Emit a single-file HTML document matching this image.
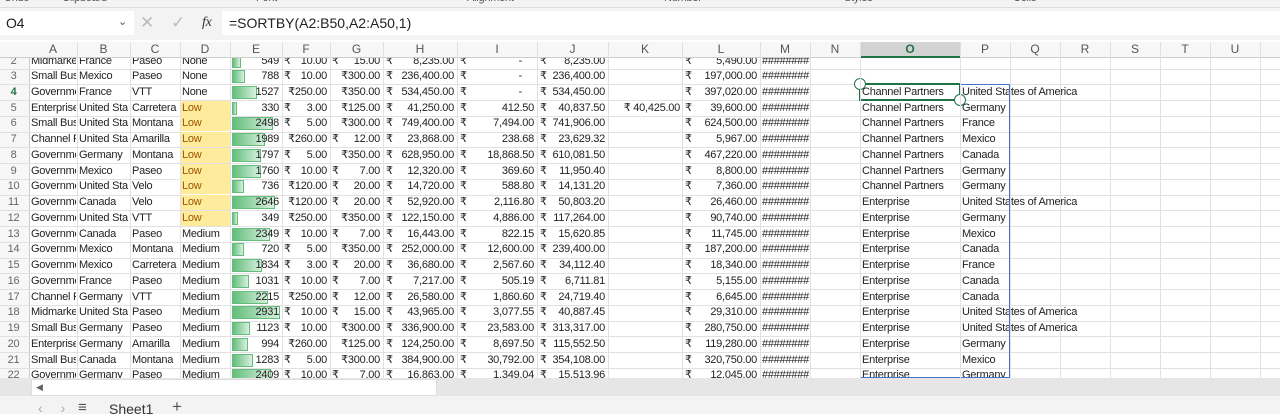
<!DOCTYPE html>
<html><head><meta charset="utf-8">
<style>
body{margin:0;width:1280px;height:414px;overflow:hidden;background:#fff;font-family:"Liberation Sans","DejaVu Sans",sans-serif;position:relative}
.a{position:absolute;white-space:nowrap;overflow:hidden;font-size:11px;color:#222;line-height:15px;letter-spacing:-0.25px}
.g{position:absolute}
.z{z-index:3}
</style></head><body>
<div class="g" style="left:0;top:0;width:1280px;height:7px;background:#f3f3f3;border-bottom:1px solid #ddd"></div>
<div class="a" style="left:0;top:-9px;width:1280px;height:16px;color:#555">
<span style="position:absolute;left:4px">Undo</span><span style="position:absolute;left:62px">Clipboard</span><span style="position:absolute;left:256px">Font</span><span style="position:absolute;left:467px">Alignment</span><span style="position:absolute;left:664px">Number</span><span style="position:absolute;left:844px">Styles</span><span style="position:absolute;left:1013px">Cells</span></div>
<div class="g" style="left:0;top:8px;width:1280px;height:32px;background:#f3f3f3"></div>
<div class="g" style="left:0;top:11px;width:134px;height:24px;background:#fff"></div>
<div class="a" style="left:6px;top:15px;font-size:14px;line-height:16px">O4</div>
<div class="a" style="left:118px;top:15px;font-size:11px;color:#555">⌄</div>
<div class="g" style="left:222px;top:11px;width:1058px;height:24px;background:#fff"></div>
<div class="a" style="left:140px;top:13px;font-size:17px;line-height:20px;color:#bbb">✕</div>
<div class="a" style="left:171px;top:13px;font-size:17px;line-height:20px;color:#bbb">✓</div>
<div class="a" style="left:202px;top:13px;font-size:14px;line-height:20px;font-style:italic;font-family:'Liberation Serif',serif;color:#333">fx</div>
<div class="a" style="left:229px;top:14px;font-size:14px;line-height:18px;letter-spacing:0">=SORTBY(A2:B50,A2:A50,1)</div>
<div id="grid"></div>
<div class="g z" style="left:0;top:378px;width:1280px;height:18px;background:#e6e6e6"></div>
<div class="g z" style="left:31px;top:379px;width:404px;height:15px;background:#fff;border:1px solid #ddd"></div>
<div class="a z" style="left:36px;top:380px;color:#666;font-size:9px">◀</div>
<div class="g z" style="left:0;top:396px;width:1280px;height:18px;background:#f3f3f3"></div>
<div class="a z" style="left:38px;top:401px;color:#aaa;font-size:14px">‹&nbsp;&nbsp;&nbsp;&nbsp;&nbsp;›</div>
<div class="a z" style="left:78px;top:400px;color:#555;font-size:15px">≡</div>
<div class="a z" style="left:109px;top:402px;font-size:14px;color:#333;letter-spacing:0">Sheet1</div>
<div class="a z" style="left:172px;top:399px;font-size:17px;color:#555">+</div>
<script>
const cols=["A","B","C","D","E","F","G","H","I","J","K","L","M","N","O","P","Q","R","S","T","U"];
const edges=[29,77,130,180,230,282,330,383,457,537,608,682,760,810,860,960,1010,1060,1110,1160,1210,1260];
const rows=[
["Midmarke","France","Paseo","None",549,"10.00","15.00","8,235.00","-","8,235.00","","5,490.00","",""],
["Small Busi","Mexico","Paseo","None",788,"10.00","300.00","236,400.00","-","236,400.00","","197,000.00","",""],
["Governme","France","VTT","None",1527,"250.00","350.00","534,450.00","-","534,450.00","","397,020.00","Channel Partners","United States of America"],
["Enterprise","United Sta","Carretera","Low",330,"3.00","125.00","41,250.00","412.50","40,837.50","₹ 40,425.00","39,600.00","Channel Partners","Germany"],
["Small Busi","United Sta","Montana","Low",2498,"5.00","300.00","749,400.00","7,494.00","741,906.00","","624,500.00","Channel Partners","France"],
["Channel P:","United Sta","Amarilla","Low",1989,"260.00","12.00","23,868.00","238.68","23,629.32","","5,967.00","Channel Partners","Mexico"],
["Governme","Germany","Montana","Low",1797,"5.00","350.00","628,950.00","18,868.50","610,081.50","","467,220.00","Channel Partners","Canada"],
["Governme","Mexico","Paseo","Low",1760,"10.00","7.00","12,320.00","369.60","11,950.40","","8,800.00","Channel Partners","Germany"],
["Governme","United Sta","Velo","Low",736,"120.00","20.00","14,720.00","588.80","14,131.20","","7,360.00","Channel Partners","Germany"],
["Governme","Canada","Velo","Low",2646,"120.00","20.00","52,920.00","2,116.80","50,803.20","","26,460.00","Enterprise","United States of America"],
["Governme","United Sta","VTT","Low",349,"250.00","350.00","122,150.00","4,886.00","117,264.00","","90,740.00","Enterprise","Germany"],
["Governme","Canada","Paseo","Medium",2349,"10.00","7.00","16,443.00","822.15","15,620.85","","11,745.00","Enterprise","Mexico"],
["Governme","Mexico","Montana","Medium",720,"5.00","350.00","252,000.00","12,600.00","239,400.00","","187,200.00","Enterprise","Canada"],
["Governme","Mexico","Carretera","Medium",1834,"3.00","20.00","36,680.00","2,567.60","34,112.40","","18,340.00","Enterprise","France"],
["Governme","France","Paseo","Medium",1031,"10.00","7.00","7,217.00","505.19","6,711.81","","5,155.00","Enterprise","Canada"],
["Channel P:","Germany","VTT","Medium",2215,"250.00","12.00","26,580.00","1,860.60","24,719.40","","6,645.00","Enterprise","Canada"],
["Midmarke","United Sta","Paseo","Medium",2931,"10.00","15.00","43,965.00","3,077.55","40,887.45","","29,310.00","Enterprise","United States of America"],
["Small Busi","Germany","Paseo","Medium",1123,"10.00","300.00","336,900.00","23,583.00","313,317.00","","280,750.00","Enterprise","United States of America"],
["Enterprise","Germany","Amarilla","Medium",994,"260.00","125.00","124,250.00","8,697.50","115,552.50","","119,280.00","Enterprise","Germany"],
["Small Busi","Canada","Montana","Medium",1283,"5.00","300.00","384,900.00","30,792.00","354,108.00","","320,750.00","Enterprise","Mexico"],
["Governme","Germany","Paseo","Medium",2409,"10.00","7.00","16,863.00","1,349.04","15,513.96","","12,045.00","Enterprise","Germany"]];
const G=document.getElementById('grid');
const TOP=42,HH=15,R0=49,RH=15.74,BOT=378;
function mk(st,txt,cls){const d=document.createElement('div');d.className=cls||'g';d.style.cssText=st;if(txt!==undefined)d.textContent=txt;G.appendChild(d);return d;}
let d;
d=mk(`left:0;top:${TOP}px;width:1280px;height:${HH}px;background:#f7f7f7;border-bottom:1px solid #ccc;z-index:2`);

d=mk(`left:0;top:${TOP+HH}px;width:29px;height:${BOT-TOP-HH}px;background:#f7f7f7;border-right:1px solid #ccc`);

d=mk(`left:860px;top:${TOP}px;width:100px;height:${HH-1}px;background:#d3d3d3;border-bottom:2px solid #217346;z-index:2`);

cols.forEach((c,i)=>{d=mk(`left:${edges[i]}px;top:${TOP}px;width:${edges[i+1]-edges[i]}px;text-align:center;color:${c=='O'?'#217346':'#555'};font-weight:${c=='O'?'bold':'normal'};font-size:12px;z-index:2;letter-spacing:0`,c,'a');

mk(`left:${edges[i+1]}px;top:${TOP}px;width:1px;height:${BOT-TOP}px;background:#e1e1e1;z-index:2`);});
for(let r=0;r<=rows.length;r++){const y=R0+r*RH+4;if(y>TOP+HH)mk(`left:0;top:${y}px;width:1280px;height:1px;background:#e1e1e1`);}
rows.forEach((row,ri)=>{const n=ri+2;const y=R0+ri*RH+4.5;
 d=mk(`left:0;top:${y}px;width:27px;text-align:center;color:${n==4?'#217346':'#666'};font-weight:${n==4?'bold':'normal'}`,String(n),'a');
 
 if(row[3]=='Low'){d=mk(`left:181px;top:${y}px;width:49px;height:15px;background:#ffeb9c`);}
 const w=row[4]/2931*48;
 d=mk(`left:232px;top:${y+1}px;width:${w}px;height:13px;background:linear-gradient(90deg,#63be7b,#d8f0df);border:1px solid #63be7b;box-sizing:border-box`);
 
 for(let c=0;c<14;c++){let v=row[c];let ci=c<12?c:c+2;if(c==12)ci=14;if(c==13)ci=15;
  const x=edges[ci],W=edges[ci+1]-x;let st=`top:${y}px;`;let txt=v;
  if(c<=3||c>=12){st+=`left:${x+2}px;width:${c==13?300:W-3}px;`;if(c==3&&v=='Low')st+='color:#9c5700;';}
  else if(c==4){st+=`left:${x}px;width:${W-3}px;text-align:right;`;}
  else if(c==10){st+=`left:${x}px;width:${W-2}px;text-align:right;`;}
  else {if(c==5||c==6){if(v.length>=6){txt='₹'+v;st+=`left:${x}px;width:${W-3}px;text-align:right;`;}else{mk(`left:${x+2}px;top:${y}px;width:10px`,'₹','a');st+=`left:${x}px;width:${W-3}px;text-align:right;`;}}
   else{mk(`left:${x+3}px;top:${y}px;width:10px`,'₹','a');st+=`left:${x}px;width:${W-(v=='-'?15:3)}px;text-align:right;`;}}
  if(c==12&&v)st+='width:98px;';
  if(txt!=='')d=mk(st,txt,'a');
 }
 d=mk(`left:${edges[12]+2}px;top:${y}px;width:48px`,'########','a');
});
d=mk(`left:860px;top:84px;width:150px;height:294px;border:1px solid #4472c4;box-sizing:border-box`);
d=mk(`left:859px;top:83px;width:102px;height:18px;border:2px solid #217346;box-sizing:border-box`);
[[860,84],[960,100]].forEach(p=>{d=mk(`left:${p[0]-6}px;top:${p[1]-6}px;width:12px;height:12px;border:1.5px solid #217346;border-radius:50%;background:#fff;box-sizing:border-box`);});
</script>
</body></html>
